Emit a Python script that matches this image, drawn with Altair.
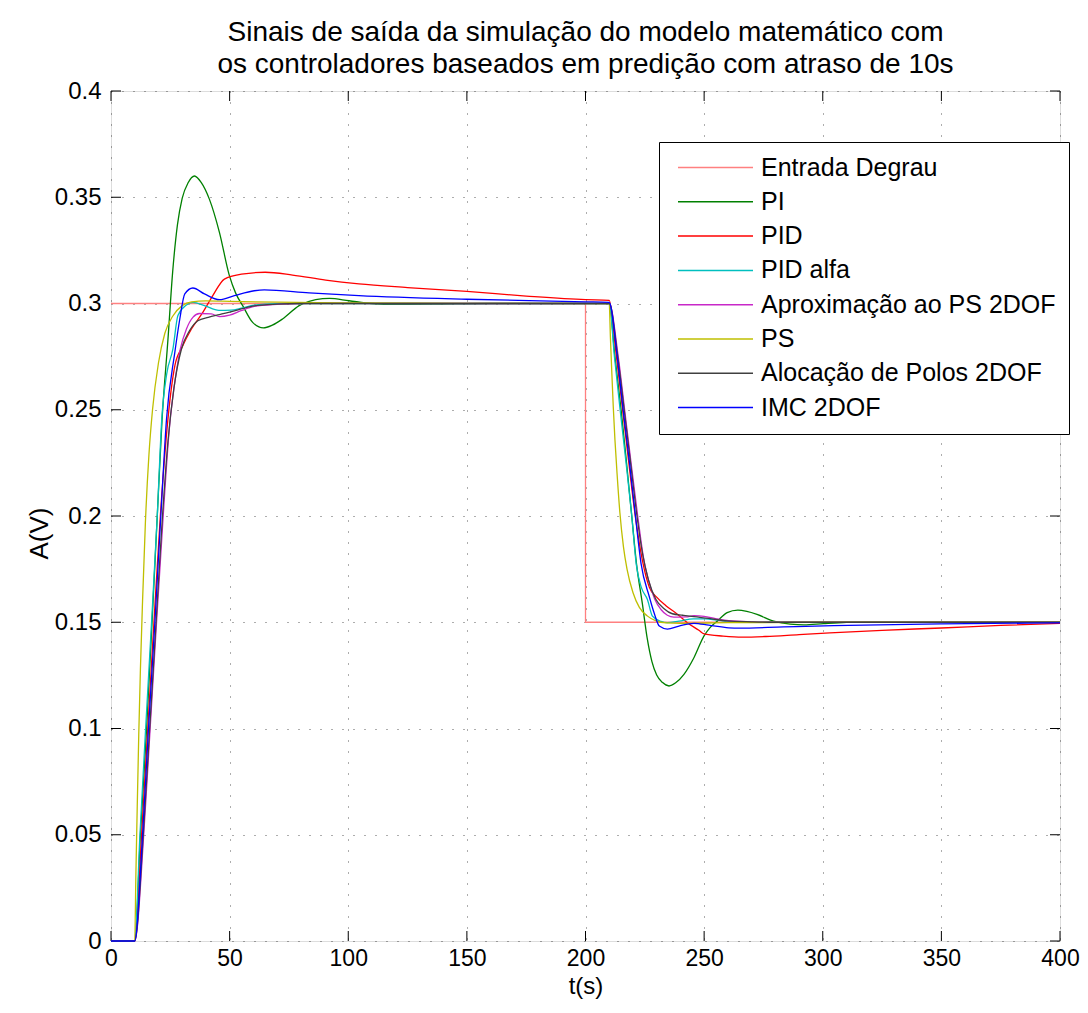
import altair as alt
import pandas as pd

# ---------------- data ----------------
series_names = ["Entrada Degrau", "PI", "PID", "PID alfa",
                "Aproximação ao PS 2DOF", "PS", "Alocação de Polos 2DOF", "IMC 2DOF"]
series_colors = ["#ff8080", "#008000", "#ff0000", "#00bfbf",
                 "#c828c8", "#bfbf00", "#404040", "#0000ff"]

t_step = [0, 200, 200, 400]
v_step = [0.3, 0.3, 0.15, 0.15]

t_pi = [0, 10, 12.4, 15, 17.3, 19.5, 21.5, 24, 26, 28, 30, 32.5, 35.2, 38, 41.5, 45.7, 49.9,
        52.5, 55.5, 59.7, 64.2, 68, 72.3, 79.3, 86.3, 92.1, 100.3, 110, 120, 135, 160, 210,
        212.4, 215, 217.3, 219.5, 221.5, 224, 226, 228, 230, 232.5, 235.2, 238, 241.5, 245.7,
        249.9, 252.5, 255.5, 259.7, 264.2, 268, 272.3, 279.3, 286.3, 292.1, 300.3, 310, 320,
        335, 360, 400]
v_pi = [0, 0, 0.05, 0.1, 0.15, 0.2, 0.245, 0.283, 0.315, 0.337, 0.3495, 0.3568, 0.36, 0.357,
        0.349, 0.3335, 0.3131, 0.305, 0.299, 0.2911, 0.2885, 0.2898, 0.2927, 0.299, 0.3018,
        0.3024, 0.3013, 0.3, 0.2996, 0.2997, 0.3, 0.3,
        0.275, 0.25, 0.225, 0.2, 0.1775, 0.1585, 0.1425, 0.1315, 0.1252, 0.1216, 0.12, 0.1215,
        0.1255, 0.1333, 0.1435, 0.1475, 0.1505, 0.1545, 0.1557, 0.1551, 0.1537, 0.1505, 0.1491,
        0.1488, 0.1494, 0.15, 0.1502, 0.1501, 0.15, 0.15]

t_pid = [0, 10, 12.9, 15.5, 18.1, 20.8, 24, 26.9, 30, 33.9, 38.7, 42.9, 47.8, 55, 65, 76.5,
         90.5, 104.5, 125, 150, 175, 200, 210,
         212.9, 215.5, 218.1, 220.8, 224, 226.9, 230, 233.9, 238.7, 242.9, 247.8, 250, 258,
         266, 276, 290, 303, 325, 350, 375, 400]
v_pid = [0, 0, 0.05, 0.1, 0.15, 0.2, 0.2456, 0.2707, 0.2795, 0.288, 0.2958, 0.3037, 0.3115,
         0.3138, 0.3147, 0.3134, 0.311, 0.3092, 0.3075, 0.3057, 0.3035, 0.3018, 0.3015,
         0.2765, 0.2515, 0.2265, 0.2015, 0.179, 0.1665, 0.1618, 0.1578, 0.1538, 0.1498, 0.1462,
         0.1445, 0.1435, 0.143, 0.1433, 0.1442, 0.145, 0.1462, 0.1473, 0.1485, 0.1495]

t_pida = [0, 10, 12.2, 14.6, 17.1, 19.5, 21.4, 23.5, 26.1, 28.2, 31.8, 34.5, 39.4, 45.5, 50.6,
          55, 60.4, 70, 80, 210,
          212.2, 214.6, 217.1, 219.5, 221.4, 223.5, 226.1, 228.2, 231.8, 234.5, 239.4, 245.5,
          250.6, 255, 260.4, 270, 280, 400]
v_pida = [0, 0, 0.05, 0.1, 0.15, 0.2, 0.2456, 0.267, 0.2786, 0.2943, 0.2993, 0.3005, 0.299,
          0.2968, 0.2969, 0.2978, 0.2992, 0.2999, 0.3, 0.3,
          0.275, 0.25, 0.225, 0.2, 0.1772, 0.1665, 0.1607, 0.1529, 0.1504, 0.1498, 0.1505,
          0.1516, 0.1516, 0.1511, 0.1504, 0.1501, 0.15, 0.15]

t_aprox = [0, 10, 13.8, 16.5, 19.2, 22, 23.3, 24.5, 26, 27.5, 29.2, 31.8, 34.5, 37.3, 42.3,
           45.7, 50, 54.8, 60.4, 70, 80, 90, 120, 210,
           213.8, 216.5, 219.2, 222, 223.3, 224.5, 226, 227.5, 229.2, 231.8, 234.5, 237.3,
           242.3, 245.7, 250, 254.8, 260.4, 270, 280, 400]
v_aprox = [0, 0, 0.05, 0.1, 0.15, 0.2, 0.222, 0.24, 0.2555, 0.2675, 0.2785, 0.288, 0.2935,
           0.2953, 0.2951, 0.2938, 0.2945, 0.2966, 0.2986, 0.2996, 0.3, 0.3002, 0.3, 0.3,
           0.275, 0.25, 0.225, 0.2, 0.189, 0.18, 0.1722, 0.1663, 0.1608, 0.156, 0.1533, 0.1524,
           0.1525, 0.1531, 0.1528, 0.1517, 0.1507, 0.1502, 0.15, 0.15]

t_ps = [0, 10, 10.5, 11, 11.7, 12.4, 13.3, 14.5, 16, 17.5, 20, 22.7, 26, 30, 34, 40, 50, 70,
        100, 150, 210,
        210.5, 211, 211.7, 212.4, 213.3, 214.5, 216, 217.5, 220, 222.7, 226, 230, 234, 240,
        260, 300, 400]
v_ps = [0, 0, 0.032, 0.06, 0.097, 0.128, 0.16, 0.197, 0.229, 0.25, 0.272, 0.286, 0.294, 0.299,
        0.3008, 0.3012, 0.301, 0.3006, 0.3003, 0.3001, 0.3,
        0.284, 0.27, 0.2515, 0.236, 0.22, 0.2015, 0.1855, 0.175, 0.164, 0.157, 0.153, 0.1505,
        0.1497, 0.1495, 0.1498, 0.15, 0.15]

t_aloc = [0, 10, 13.6, 16.3, 19, 21.7, 24, 26.5, 29.7, 33, 36.6, 41, 45.7, 52, 59.7, 70, 80,
          210,
          213.6, 216.3, 219, 221.7, 224, 226.5, 229.7, 233, 236.6, 241, 245.7, 252, 259.7, 270,
          280, 400]
v_aloc = [0, 0, 0.05, 0.1, 0.15, 0.2, 0.235, 0.26, 0.2786, 0.287, 0.2919, 0.2935, 0.2948,
          0.2965, 0.2988, 0.2997, 0.3, 0.3,
          0.275, 0.25, 0.225, 0.2, 0.1825, 0.17, 0.1607, 0.1565, 0.154, 0.1533, 0.1526, 0.1518,
          0.1506, 0.1502, 0.15, 0.15]

t_imc = [0, 10, 13.3, 15.8, 18.5, 21, 23.4, 26.9, 29, 31.1, 34.5, 39.4, 45.7, 52, 60.4, 64.6,
         83.5, 104.5, 150, 200, 210,
         213.3, 215.8, 218.5, 221, 223.4, 226.9, 229, 231.1, 234.5, 239.4, 245.7, 252, 260.4,
         264.6, 283.5, 304.5, 350, 400]
v_imc = [0, 0, 0.05, 0.1, 0.15, 0.2, 0.2456, 0.277, 0.2927, 0.3045, 0.3073, 0.3045, 0.3018,
         0.3037, 0.306, 0.3064, 0.305, 0.3037, 0.302, 0.3008, 0.3005,
         0.2755, 0.2505, 0.2255, 0.2005, 0.1777, 0.162, 0.1541, 0.1482, 0.1468, 0.1482, 0.1495,
         0.1486, 0.1474, 0.1472, 0.1478, 0.1484, 0.1492, 0.1497]

x_ticks = [0, 50, 100, 150, 200, 250, 300, 350, 400]
y_ticks = [0, 0.05, 0.1, 0.15, 0.2, 0.25, 0.3, 0.35, 0.4]

title_lines = ["Sinais de saída da simulação do modelo matemático com",
               "os controladores baseados em predição com atraso de 10s"]

# ---------------- build tables ----------------
all_series = [(t_step, v_step), (t_pi, v_pi), (t_pid, v_pid), (t_pida, v_pida),
              (t_aprox, v_aprox), (t_ps, v_ps), (t_aloc, v_aloc), (t_imc, v_imc)]
rows = []
for name, (ts, vs) in zip(series_names, all_series):
    for i, (t, v) in enumerate(zip(ts, vs)):
        rows.append({"serie": name, "t": t, "v": v, "i": i})
df = pd.DataFrame(rows)
df_xt = pd.DataFrame({"t": x_ticks})
df_yt = pd.DataFrame({"v": y_ticks})

W, H = 949, 850
FONT = "Liberation Sans"

x_scale = alt.Scale(domain=[0, 400], nice=False, zero=False)
y_scale = alt.Scale(domain=[0, 0.4], nice=False, zero=False)
x_axis = alt.Axis(values=x_ticks, title="t(s)", grid=True, ticks=False, tickSize=0,
                  domain=False, labelPadding=6, labelFontSize=23, labelFont=FONT,
                  labelColor="black", labelFlush=False, titleFontSize=24, titleFont=FONT,
                  titleFontWeight="normal", titleColor="black", titleY=57,
                  titleBaseline="bottom",
                  gridDash=[1, 10], gridColor="#333", gridOpacity=0.8)
y_axis = alt.Axis(values=y_ticks, title="A(V)", grid=True, ticks=False, tickSize=0,
                  domain=False, labelPadding=10, labelFontSize=24, labelFont=FONT,
                  labelColor="black", labelFlush=False, format="~g", titleFontSize=26,
                  titleFont=FONT, titleFontWeight="normal", titleColor="black",
                  titlePadding=2, titleY=442, gridDash=[1, 10], gridColor="#333",
                  gridOpacity=0.8)

legend = alt.Legend(title=None, orient="none", legendX=548, legendY=51, direction="vertical",
                    symbolType="M-1,0H9", symbolSize=225, symbolStrokeWidth=1.5,
                    symbolOffset=1, labelFontSize=25, labelFont=FONT, labelColor="black",
                    labelOffset=63, labelLimit=600, padding=13, rowPadding=8.3,
                    strokeColor="black", fillColor="white", symbolOpacity=1)

lines = alt.Chart(df).mark_line(strokeWidth=1.3, interpolate="monotone").encode(
    x=alt.X("t:Q", scale=x_scale, axis=x_axis),
    y=alt.Y("v:Q", scale=y_scale, axis=y_axis),
    color=alt.Color("serie:N", scale=alt.Scale(domain=series_names, range=series_colors),
                    sort=series_names, legend=legend),
    order="i:Q",
    detail="serie:N",
)

tick_b = alt.Chart(df_xt).mark_rule(color="black", strokeWidth=1).encode(
    x=alt.X("t:Q", scale=x_scale, axis=x_axis), y=alt.value(H), y2=alt.value(H - 10))
tick_t = alt.Chart(df_xt).mark_rule(color="black", strokeWidth=1).encode(
    x=alt.X("t:Q", scale=x_scale, axis=x_axis), y=alt.value(0), y2=alt.value(10))
tick_l = alt.Chart(df_yt).mark_rule(color="black", strokeWidth=1).encode(
    y=alt.Y("v:Q", scale=y_scale, axis=y_axis), x=alt.value(0), x2=alt.value(10))
tick_r = alt.Chart(df_yt).mark_rule(color="black", strokeWidth=1).encode(
    y=alt.Y("v:Q", scale=y_scale, axis=y_axis), x=alt.value(W), x2=alt.value(W - 10))

chart = alt.layer(tick_b, tick_t, tick_l, tick_r, lines).properties(
    width=W, height=H,
    title=alt.TitleParams(text=title_lines, fontSize=28, font=FONT, fontWeight="normal",
                          anchor="middle", color="black", lineHeight=32, offset=0),
    autosize=alt.AutoSizeParams(type="none"),
    padding={"left": 103, "top": 83, "right": 20, "bottom": 58},
).configure_view(stroke="black", strokeWidth=1).configure(background="white")

chart.save("out.html", embed_options={"renderer": "svg", "actions": False})
